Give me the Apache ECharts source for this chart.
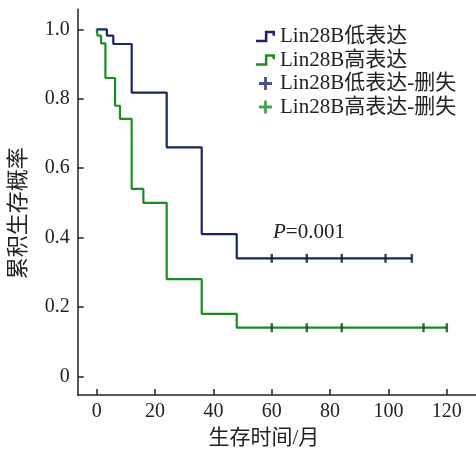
<!DOCTYPE html>
<html>
<head>
<meta charset="utf-8">
<script src="https://cdn.jsdelivr.net/npm/echarts@6/dist/echarts.min.js"></script>
<style>
html,body{margin:0;padding:0;background:#fff;}
#c{width:476px;height:454px;}
</style>
</head>
<body>
<div id="c"></div>
<script>
// Kaplan-Meier step points [month, survival]
var lowCurve = [[0,1.0],[3.5,0.982],[5.7,0.958],[12,0.818],[24,0.66],[36,0.41],[48,0.34],[108,0.34]];
var highCurve = [[0,1.0],[0.3,0.982],[1.5,0.96],[3,0.86],[6.3,0.78],[8,0.742],[12,0.54],[16,0.50],[24,0.28],[36,0.18],[48,0.14],[120,0.14]];
var lowCensor = [[60,0.34],[72,0.34],[84,0.34],[99,0.34],[108,0.34]];
var highCensor = [[60,0.14],[72,0.14],[84,0.14],[112,0.14],[120,0.14]];
var xTicks = [0,20,40,60,80,100,120];
var yTicks = [0,0.2,0.4,0.6,0.8,1.0];
var names = ['Lin28B低表达','Lin28B高表达','Lin28B低表达-删失','Lin28B高表达-删失'];
var blue = '#1a2466', green = '#1a8c22';
var FONT = "'Liberation Serif','Noto Sans CJK SC',serif";
var stepIcon = 'path://M0,9 L7,9 L7,2 L15,2 L15,6 L13,6 L13,4 L9,4 L9,11 L0,11 Z';
var plusIcon = 'path://M5.5,0 L8.5,0 L8.5,5.5 L14,5.5 L14,8.5 L8.5,8.5 L8.5,14 L5.5,14 L5.5,8.5 L0,8.5 L0,5.5 L5.5,5.5 Z';

var chart = echarts.init(document.getElementById('c'), null, {renderer:'canvas'});
chart.setOption({
  animation:false,
  backgroundColor:'#fff',
  grid:{left:77.7, right:0, top:9.3, bottom:58.3, containLabel:false},
  legend:{
    orient:'vertical', left:251, top:21, itemGap:2.5, itemWidth:19, itemHeight:13,
    textStyle:{fontFamily:FONT, fontSize:21, color:'#222'},
    data:[
      {name:names[0], icon:stepIcon, itemStyle:{color:blue}},
      {name:names[1], icon:stepIcon, itemStyle:{color:green}},
      {name:names[2], icon:plusIcon, itemStyle:{color:blue}},
      {name:names[3], icon:plusIcon, itemStyle:{color:green}}
    ]
  },
  xAxis:{
    type:'value', min:-6.5, max:130,
    name:'生存时间/月', nameLocation:'middle', nameGap:33,
    nameTextStyle:{fontFamily:FONT, fontSize:21, color:'#222', padding:[0,26,0,0]},
    axisLine:{onZero:false, lineStyle:{color:'#222', width:1.5}},
    axisTick:{inside:true, length:6, customValues:xTicks, lineStyle:{color:'#222', width:1.5}},
    axisLabel:{customValues:xTicks, fontFamily:FONT, fontSize:20, color:'#222', margin:7},
    splitLine:{show:false}
  },
  yAxis:{
    type:'value', min:-0.054, max:1.058,
    name:'累积生存概率', nameLocation:'middle', nameGap:47, nameRotate:90,
    nameTextStyle:{fontFamily:FONT, fontSize:22, color:'#222', padding:[0,22,0,0]},
    axisLine:{show:true, onZero:false, lineStyle:{color:'#222', width:1.5}},
    axisTick:{show:true, inside:true, length:6, customValues:yTicks, lineStyle:{color:'#222', width:1.5}},
    axisLabel:{customValues:yTicks, fontFamily:FONT, fontSize:20, color:'#222', margin:8,
      formatter:function(v){return v === 0 ? '0' : v.toFixed(1);}},
    splitLine:{show:false}
  },
  series:[
    {name:names[0], type:'line', step:'end', data:lowCurve, showSymbol:false, symbol:'none',
      lineStyle:{color:blue, width:2.2}, itemStyle:{color:blue}, z:3},
    {name:names[1], type:'line', step:'end', data:highCurve, showSymbol:false, symbol:'none',
      lineStyle:{color:green, width:2.2}, itemStyle:{color:green}, z:2},
    {name:names[2], type:'scatter', data:lowCensor, symbol:'rect', symbolSize:[2.5,9],
      itemStyle:{color:'#111a40'}, z:4},
    {name:names[3], type:'scatter', data:highCensor, symbol:'rect', symbolSize:[2.5,9],
      itemStyle:{color:'#0e4a12'}, z:4}
  ],
  graphic:[{
    type:'text', left:273, top:222,
    style:{text:'{i|P}=0.001', font:'21px '+FONT, fill:'#222',
      rich:{i:{fontStyle:'italic', fontFamily:FONT, fontSize:21, fill:'#222'}}}
  }]
});
</script>
</body>
</html>
